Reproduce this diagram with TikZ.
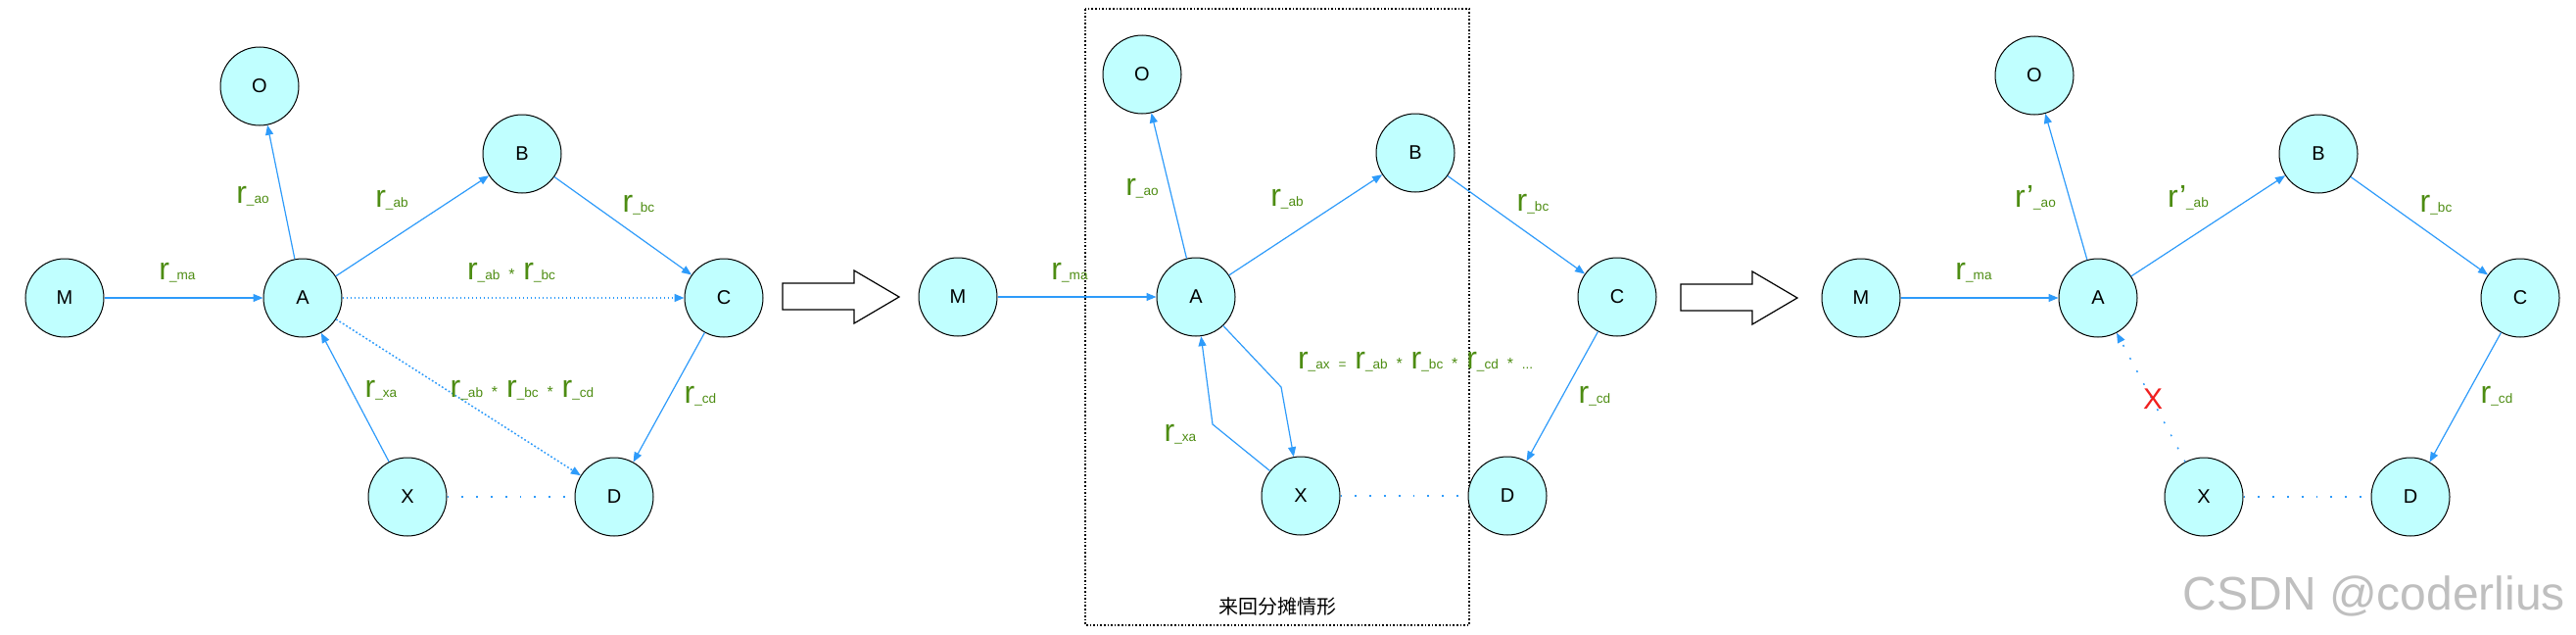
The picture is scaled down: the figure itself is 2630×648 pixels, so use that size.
\documentclass[tikz,border=0pt]{standalone}
\usepackage{fontspec}
\setmainfont{Liberation Sans}
\newfontfamily\cjk{Noto Sans CJK SC}
\usetikzlibrary{arrows.meta}
\definecolor{nodecyan}{HTML}{C0FFFF}
\definecolor{linkblue}{HTML}{2E9BFA}
\definecolor{labelgreen}{HTML}{4D8C12}
\definecolor{crossred}{HTML}{F02020}
\newcommand{\sm}[1]{{\fontsize{6.8pt}{8pt}\selectfont #1}}
\newcommand{\st}{{\fontsize{8pt}{8pt}\selectfont *}}

\begin{document}
\begin{tikzpicture}[x=0.5pt,y=-0.5pt,
  vertex/.style={circle,draw=black,line width=0.5pt,fill=nodecyan,minimum size=40pt,inner sep=0pt,font=\fontsize{10pt}{12pt}\selectfont},
  flow/.style={draw=linkblue,line width=0.6pt,-{Triangle[length=5pt,width=4pt]}},
  dense/.style={flow,line width=0.75pt,dash pattern=on 0.9pt off 1.1pt},
  sparse/.style={draw=linkblue,line width=0.75pt,dash pattern=on 0.9pt off 6.5pt},
  rlabel/.style={text=labelgreen,anchor=base,font=\fontsize{16pt}{18pt}\selectfont}]
  \useasboundingbox (0,0) rectangle (2630,648);
  \draw[line width=0.6pt,dash pattern=on 0.8pt off 1pt] (1108,9) rectangle (1500,638);
  \node[font=\cjk\fontsize{10pt}{12pt}\selectfont] (case) at (1304,619) {来回分摊情形};
  \draw[line width=0.6pt,fill=white] (799,289) -- (872,289) -- (872,276) -- (918,303) -- (872,330) -- (872,316) -- (799,316) -- cycle;
  \draw[line width=0.6pt,fill=white] (1716,290) -- (1789,290) -- (1789,277) -- (1835,304) -- (1789,331) -- (1789,317) -- (1716,317) -- cycle;
  \foreach \l/\x/\y in {M/66/304,A/309/304,O/265/88,B/533/157,C/739/304,X/416/507,D/627/507}{\node[vertex] (\l1) at (\x,\y) {\l};}
  \foreach \l/\x/\y in {M/978/303,A/1221/303,O/1166/76,B/1445/156,C/1651/303,X/1328/506,D/1539/506}{\node[vertex] (\l2) at (\x,\y) {\l};}
  \foreach \l/\x/\y in {M/1900/304,A/2142/304,O/2077/77,B/2367/157,C/2573/304,X/2250/507,D/2461/507}{\node[vertex] (\l3) at (\x,\y) {\l};}
  \foreach \p in {1,2,3}{
    \draw[flow] (M\p) -- (A\p);
    \draw[flow] (A\p) -- (O\p);
    \draw[flow] (A\p) -- (B\p);
    \draw[flow] (B\p) -- (C\p);
    \draw[flow] (C\p) -- (D\p);
    \draw[sparse] (X\p) -- (D\p);
  }
  \draw[flow] (X1) -- (A1);
  \draw[dense] (A1) -- (C1);
  \draw[dense] (A1) -- (D1);
  \coordinate (bendAX) at (1308,395);
  \coordinate (bendXA) at (1238,433);
  \draw[flow] (A2) -- (bendAX) -- (X2);
  \draw[flow] (X2) -- (bendXA) -- (A2);
  \draw[flow,line width=0.75pt,dash pattern=on 0.9pt off 6.5pt] (X3) -- (A3);
  \node[rlabel] (lao1) at (258,207) {r\sm{\_ao}};
  \node[rlabel] (lab1) at (400,211) {r\sm{\_ab}};
  \node[rlabel] (lbc1) at (652,216) {r\sm{\_bc}};
  \node[rlabel] (lma1) at (181,285) {r\sm{\_ma}};
  \node[rlabel] (labc1) at (522,285) {r\sm{\_ab} \st{} r\sm{\_bc}};
  \node[rlabel] (lxa1) at (389,405) {r\sm{\_xa}};
  \node[rlabel] (labcd1) at (533,405) {r\sm{\_ab} \st{} r\sm{\_bc} \st{} r\sm{\_cd}};
  \node[rlabel] (lcd1) at (715,411) {r\sm{\_cd}};
  \node[rlabel] (lma2) at (1092,285) {r\sm{\_ma}};
  \node[rlabel] (lao2) at (1166,199) {r\sm{\_ao}};
  \node[rlabel] (lab2) at (1314,210) {r\sm{\_ab}};
  \node[rlabel] (lbc2) at (1565,215) {r\sm{\_bc}};
  \node[rlabel,anchor=base west] (lax2) at (1318,376) {r\sm{\_ax} \sm{=} r\sm{\_ab} \st{} r\sm{\_bc} \st{} r\sm{\_cd} \st{} \sm{...}};
  \node[rlabel] (lxa2) at (1205,450) {r\sm{\_xa}};
  \node[rlabel] (lcd2) at (1628,411) {r\sm{\_cd}};
  \node[rlabel] (lma3) at (2015,285) {r\sm{\_ma}};
  \node[rlabel] (lao3) at (2078,211) {r’\sm{\_ao}};
  \node[rlabel] (lab3) at (2234,211) {r’\sm{\_ab}};
  \node[rlabel] (lbc3) at (2487,216) {r\sm{\_bc}};
  \node[rlabel] (lcd3) at (2549,411) {r\sm{\_cd}};
  \node[text=crossred,anchor=base,font=\fontsize{15pt}{18pt}\selectfont] (cross3) at (2198,417) {X};
  \node[anchor=base east,text=black!25,font=\fontsize{24pt}{28pt}\selectfont] (mark) at (2626,622) {CSDN @coderlius};
\end{tikzpicture}
\end{document}
